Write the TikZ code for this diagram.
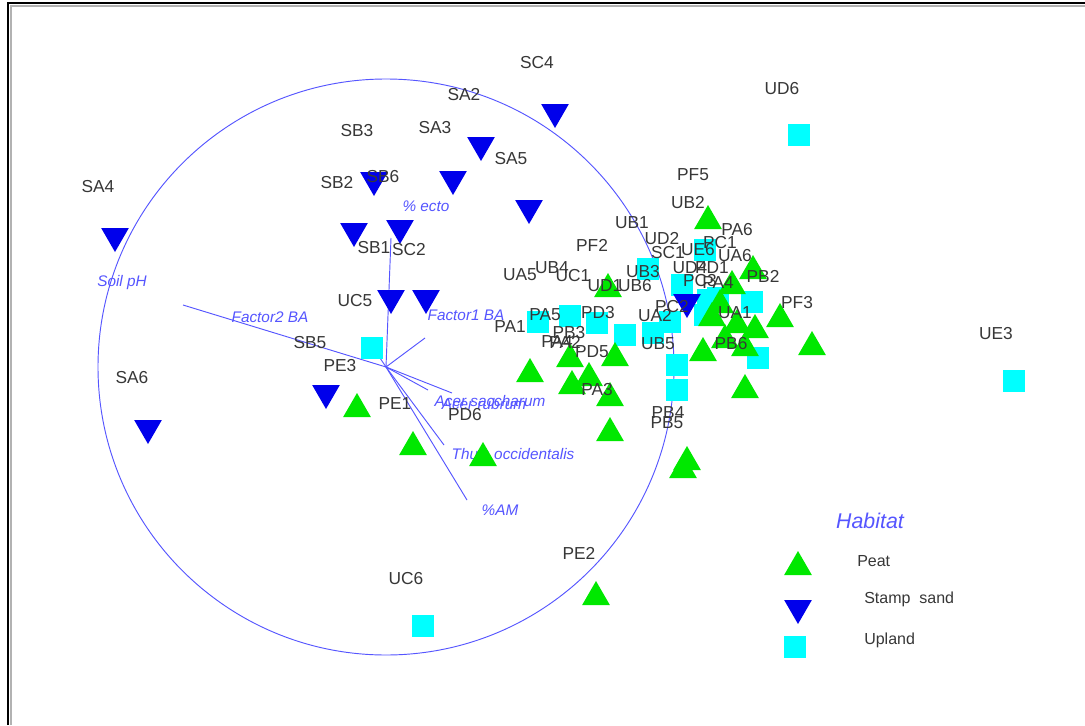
\documentclass[tikz,border=0pt]{standalone}
\usepackage{fontspec}
\setmainfont{Liberation Sans}
\usetikzlibrary{shapes.geometric}
\definecolor{pgreen}{RGB}{0,232,0}
\definecolor{pblue}{RGB}{0,0,235}
\definecolor{pcyan}{RGB}{0,255,255}
\definecolor{vblue}{RGB}{85,85,255}
\definecolor{labgray}{RGB}{55,55,55}
\begin{document}
\begin{tikzpicture}[x=0.75pt,y=-0.75pt,
  peat/.style={regular polygon, regular polygon sides=3, fill=pgreen, draw=none, inner sep=0pt, minimum size=24pt},
  stamp/.style={regular polygon, regular polygon sides=3, shape border rotate=180, fill=pblue, draw=none, inner sep=0pt, minimum size=24pt},
  upland/.style={rectangle, fill=pcyan, draw=none, inner sep=0pt, minimum size=16.5pt},
  lab/.style={text=labgray, inner sep=0pt, font=\fontsize{13}{15}\selectfont},
  vlab/.style={text=vblue, inner sep=0pt, font=\fontsize{11.5}{13}\selectfont\itshape},
  vec/.style={draw=vblue, line width=0.7pt},
  leglab/.style={text=labgray, inner sep=0pt, anchor=west, font=\fontsize{12}{14}\selectfont}]
\useasboundingbox (0,0) rectangle (1085,725);
\fill[white] (0,0) rectangle (1085,725);
% frame
\draw[line width=1.5pt, gray!60] (11,725) -- (11,6) -- (1085,6);
\draw[line width=1.5pt, black] (8,725) -- (8,3) -- (1085,3);
% correlation circle and vectors
\coordinate (O) at (386,367);
\draw[vec] (O) circle[radius=288];
\coordinate (vF2) at (183,305);
\coordinate (vEc) at (391,238);
\coordinate (vF1) at (425,338);
\coordinate (vAs) at (452,393);
\coordinate (vAr) at (428,390);
\coordinate (vTh) at (444,445);
\coordinate (vAM) at (467,500);
\coordinate (vPh) at (368,340);
\foreach \v in {vF2,vEc,vF1,vAs,vAr,vTh,vAM,vPh} \draw[vec] (O) -- (\v);
\node[vlab] (tPh) at (122,283) {Soil pH};
\node[vlab] (tF2) at (270,317) {Factor2 BA};
\node[vlab] (tEc) at (426,206) {\% ecto};
\node[vlab] (tF1) at (466,315) {Factor1 BA};
\node[vlab] (tAs) at (490,401) {Acer saccharum};
\node[vlab] (tAr) at (484,404) {Acer rubrum};
\node[vlab] (tTh) at (513,456) {Thuja occidentalis};
\node[vlab] (tAM) at (500,510) {\%AM};
% Upland squares
\foreach \x/\y [count=\i] in {799/135,1014/381,423/626,372/348,538/322,570/316,597/323,625/335,653/333,670/322,677/365,677/390,648/269,682/285,705/250,708/300,705/315,752/302,758/358,718/298}
  \node[upland] (u\i) at (\x,\y) {};
% Stamp sand triangles
\foreach \x/\y [count=\i] in {555/112,481/145,453/179,529/208,374/180,354/231,400/228,391/298,426/298,115/236,148/428,326/393,687/302}
  \node[stamp] (s\i) at (\x,\y) {};
% Peat triangles
\foreach \x/\y [count=\i] in {708/221,608/289,780/319,812/347,753/271,732/286,712/318,737/325,755/330,703/353,745/348,725/340,530/374,570/359,615/358,572/386,589/378,610/398,610/433,745/390,687/462,683/470,596/597,483/458,413/447,357/409,720/305}
  \node[peat] (p\i) at (\x,\y) {};
% sample labels
\foreach \t/\x/\y in {SC4/537/63,UD6/782/89,SA2/464/95,SB3/357/131,SA3/435/128,SA4/98/187,SB2/337/183,SB6/383/177,SA5/511/159,PF5/693/175,UB2/688/203,UB1/632/223,PA6/737/230,PF2/592/245,UD2/662/239,SB1/374/248,SC2/409/250,SC1/668/253,UE6/698/250,PC1/720/243,UA6/735/256,UA5/520/275,UB4/552/268,UC1/573/276,UB3/643/272,UD1/605/286,UB6/635/286,UD4/690/268,PD1/712/268,PC3/700/281,PA4/718/283,PB2/763/276,PF3/797/303,UC5/355/301,PA1/510/327,PA5/545/315,PD3/598/313,UA2/655/316,PC2/672/307,UA1/735/313,PB3/569/333,PA2/565/342,PA4/557/342,PD5/592/352,UB5/658/344,PB6/731/344,SB5/310/343,PE3/340/366,SA6/132/378,PE1/395/404,PD6/465/415,PA3/597/390,PB4/668/413,PB5/667/423,PE2/579/553,UC6/406/579,UE3/996/334}
  \node[lab] (l\t) at (\x,\y) {\t};
% legend
\node[text=vblue, inner sep=0pt, font=\fontsize{16}{18}\selectfont\itshape] (hab) at (870,521) {Habitat};
\node[peat] (lgP) at (798,567) {};
\node[stamp] (lgS) at (798,608) {};
\node[upland] (lgU) at (795,647) {};
\node[leglab] (lgPt) at (857,561) {Peat};
\node[leglab] (lgSt) at (864,599) {Stamp\ \ sand};
\node[leglab] (lgUt) at (864,640) {Upland};
\end{tikzpicture}
\end{document}
